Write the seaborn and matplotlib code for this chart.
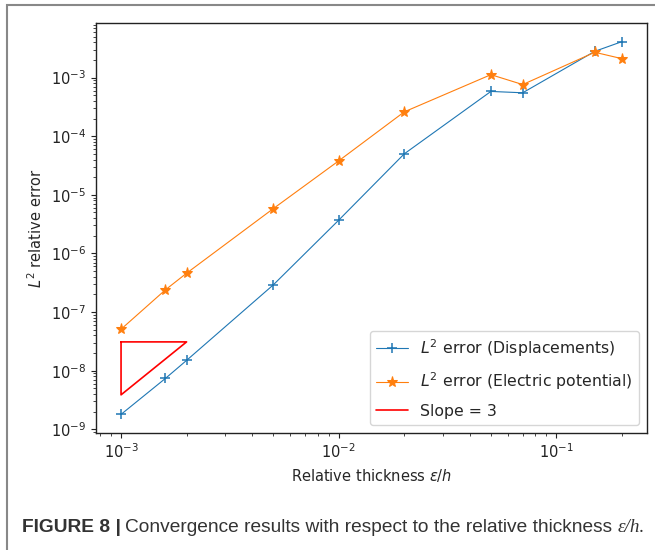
import numpy as np
import pandas as pd
import seaborn as sns
import matplotlib.pyplot as plt
from matplotlib.patches import Rectangle

# =========================
# DATA
# =========================

espessura = [1e-3, 1.6e-3, 2e-3, 5e-3, 1e-2, 2e-2, 5e-2, 7e-2, 0.15, 0.2]
erro_desloc = [1.8e-9, 7.4e-9, 1.5e-8, 2.9e-7, 3.7e-6, 5.0e-5, 5.8e-4, 5.5e-4, 2.8e-3, 4.1e-3]
erro_potencial = [5.1e-8, 2.4e-7, 4.6e-7, 5.8e-6, 3.8e-5, 2.6e-4, 1.12e-3, 7.6e-4, 2.7e-3, 2.1e-3]

tri_x = [1e-3, 2e-3, 1e-3, 1e-3]
tri_y = [3.1e-8, 3.1e-8, 3.1e-8 / 8, 3.1e-8]

dados = pd.DataFrame({
    "espessura": espessura,
    "desloc": erro_desloc,
    "potencial": erro_potencial,
})

# =========================
# FIGURE
# =========================

sns.set_style("ticks")
plt.rcParams["font.family"] = ["DejaVu Sans"]
plt.rcParams["mathtext.fontset"] = "dejavusans"

fig = plt.figure(figsize=(6.55, 5.5), dpi=100)
ax = fig.add_axes([96 / 655, 1 - 433 / 550, (647 - 96) / 655, (433 - 23) / 550])

azul = "#1f77b4"
laranja = "#ff7f0e"

sns.lineplot(data=dados, x="espessura", y="desloc", ax=ax, color=azul,
             marker="+", markersize=7, markeredgewidth=1.1,
             markeredgecolor=azul, linewidth=0.8,
             label=r"$L^2$ error (Displacements)")
sns.lineplot(data=dados, x="espessura", y="potencial", ax=ax, color=laranja,
             marker="*", markersize=8, markeredgecolor=laranja, linewidth=0.8,
             label=r"$L^2$ error (Electric potential)")
ax.plot(tri_x, tri_y, color="red", linewidth=1.2, label="Slope = 3")

ax.set_xscale("log")
ax.set_yscale("log")
ax.margins(0.05)

ax.set_xlabel(r"Relative thickness $\varepsilon/h$", fontsize=10.5)
ax.set_ylabel(r"$L^2$ relative error", fontsize=10.5)
ax.tick_params(labelsize=10.5, colors="#222222")
ax.tick_params(which="minor", length=2.5)
for s in ax.spines.values():
    s.set_color("#222222")
    s.set_linewidth(1.0)

ax.legend(loc="lower right", fontsize=11.3, frameon=True, framealpha=0.8,
          edgecolor="#cccccc", labelspacing=0.75)

# moldura e legenda da figura
fig.patches.append(Rectangle((7 / 655, -0.1), 1.2, 1.1 - 5 / 550,
                             transform=fig.transFigure, fill=False,
                             edgecolor="#888888", linewidth=1.5))

y_cap = 1 - 527 / 550
fonte_cap = ["Liberation Sans Narrow", "Liberation Sans"]
t1 = fig.text(22 / 655, y_cap, "FIGURE 8 |", fontsize=13.8, fontweight="bold",
              family=fonte_cap, va="center", color="#333333")
fig.canvas.draw()
r = fig.canvas.get_renderer()
bb = t1.get_window_extent(r)
t2 = fig.text(bb.x1 / 655 + 4 / 655, y_cap,
              "Convergence results with respect to the relative thickness ",
              fontsize=13.8, family=fonte_cap, va="center", color="#333333")
bb2 = t2.get_window_extent(r)
fig.text(bb2.x1 / 655, y_cap, "ε/h.", fontsize=13.8, style="italic",
         family=["Liberation Serif"], va="center", color="#333333")

plt.savefig("out.png", dpi=100)
